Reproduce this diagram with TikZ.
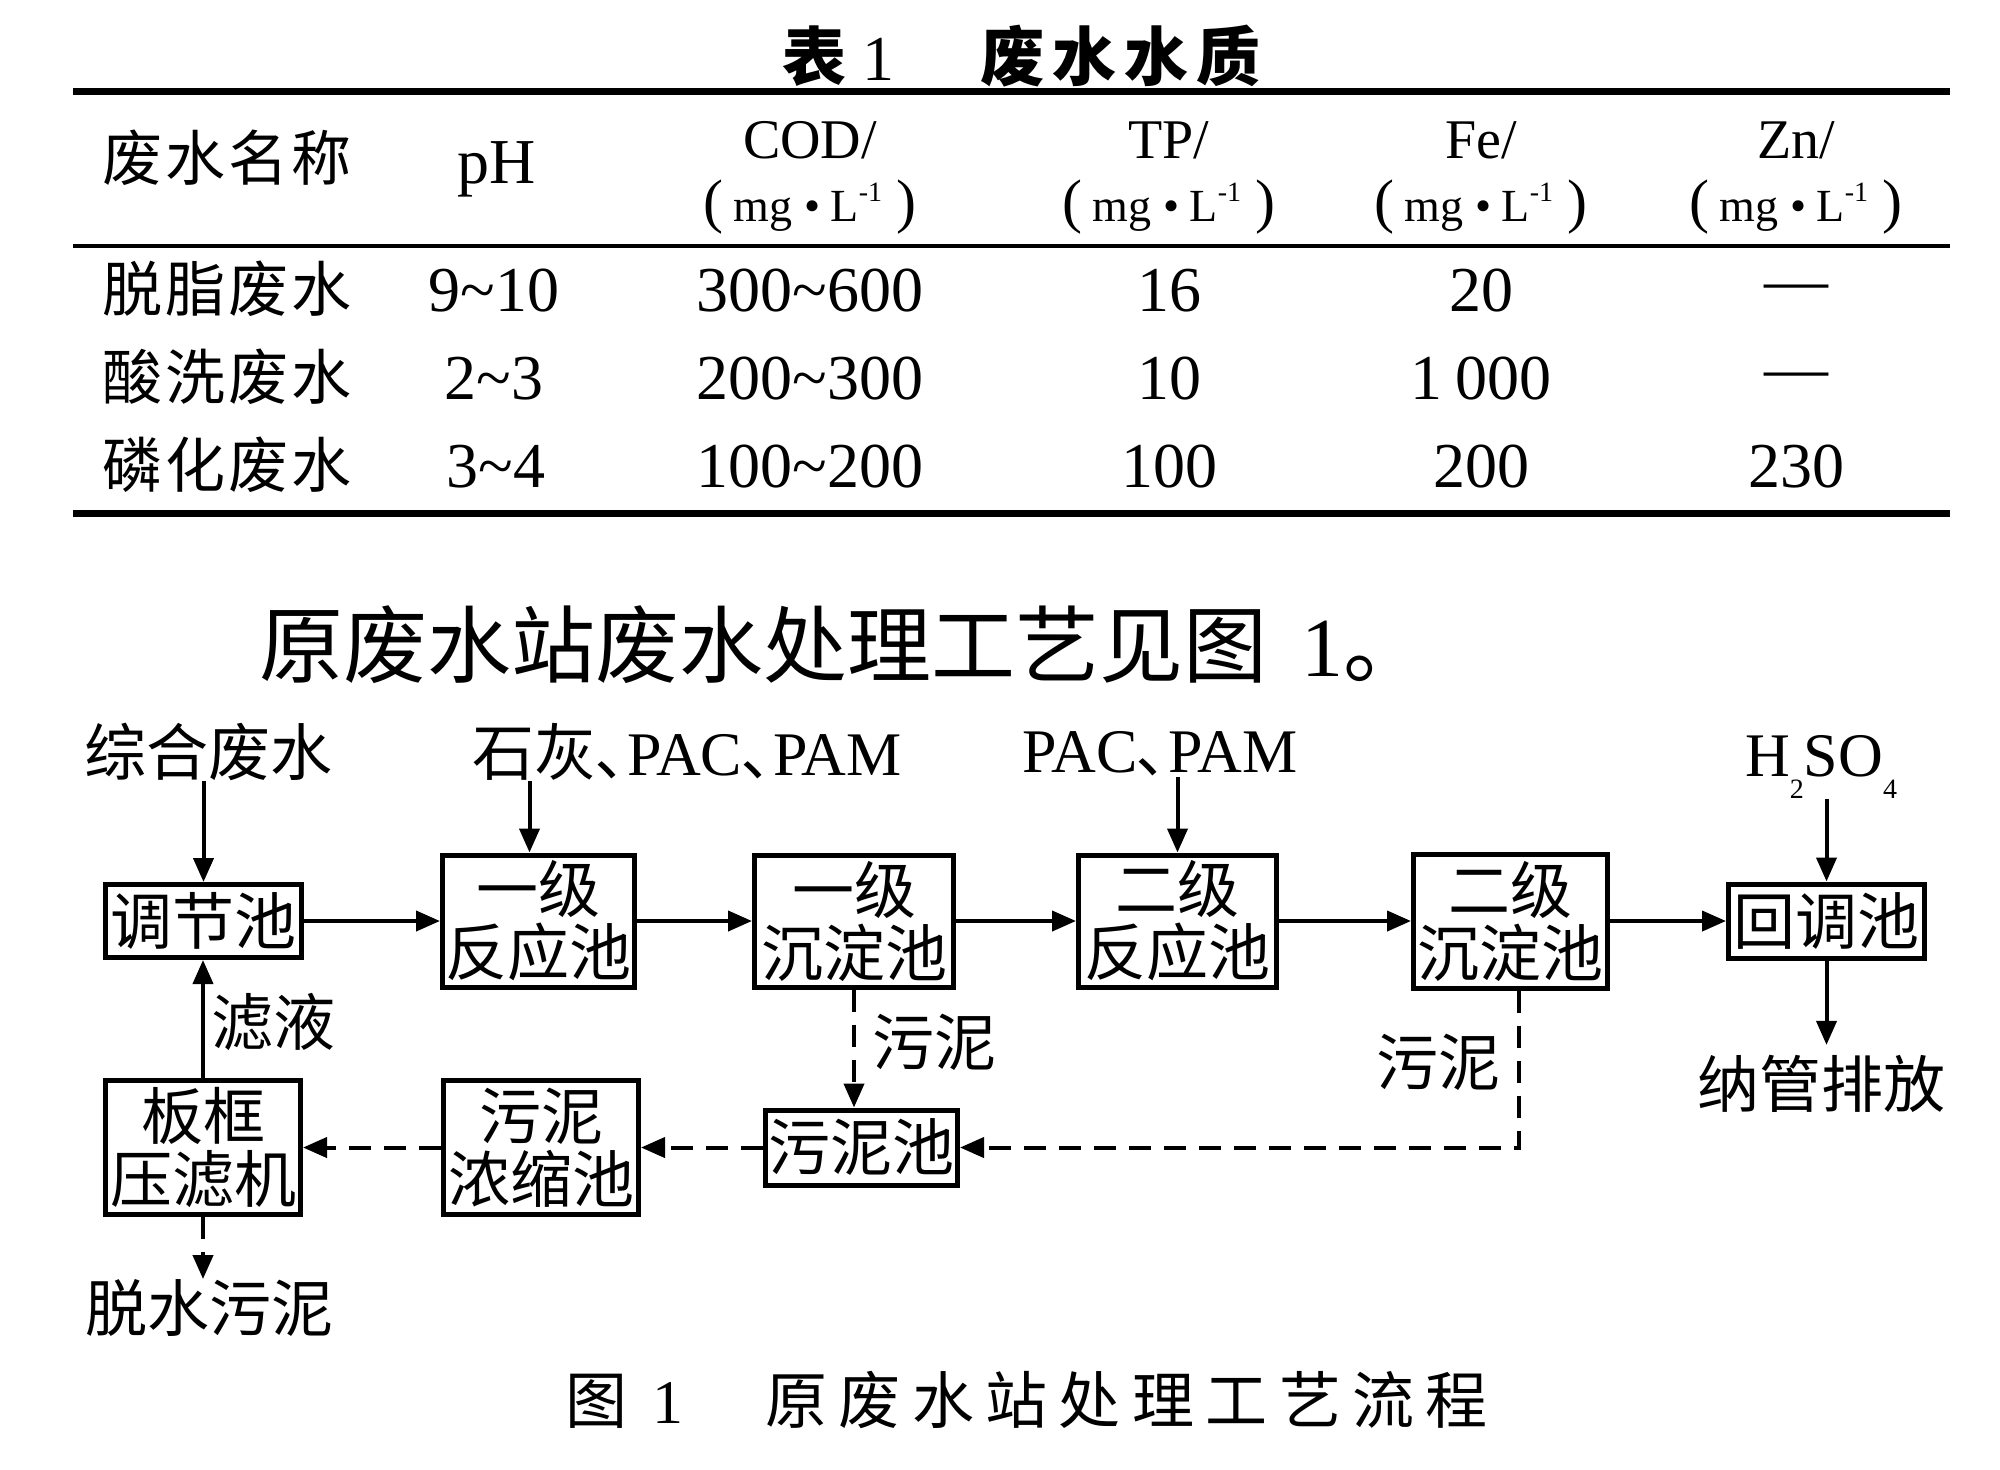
\documentclass[tikz,border=0pt]{standalone}
\usepackage{fontspec}
\setmainfont{Liberation Serif}
\newfontfamily\cjk{Noto Sans CJK SC}
\usetikzlibrary{arrows.meta}
\newdimen\lspamt
\makeatletter
\def\lsp#1#2{\lspamt=#1\relax\lsp@a#2\relax\relax}
\def\lsp@a#1#2{#1\ifx\relax#2\else\hskip\lspamt\relax\expandafter\lsp@a\expandafter#2\fi}
\makeatother
\newcommand\dun{{\cjk ､}}
\newcommand\mgL{{\fontsize{30}{30}\selectfont (}\hspace{5pt}{\fontsize{23}{23}\selectfont mg\hspace{6pt}•\hspace{5pt}L\raisebox{10pt}{\fontsize{14}{14}\selectfont -1}}\hspace{7pt}{\fontsize{30}{30}\selectfont )}}
\begin{document}
\begin{tikzpicture}[x=0.5pt,y=-0.5pt,
  tx/.style={inner sep=0pt, font=\fontsize{32}{32}\selectfont},
  th/.style={inner sep=0pt, font=\fontsize{28}{28}\selectfont},
  tc/.style={inner sep=0pt, font=\cjk\fontsize{30}{30}\selectfont},
  lb/.style={inner sep=0pt, font=\fontsize{31}{31}\selectfont},
  lbc/.style={inner sep=0pt, font=\cjk\fontsize{31}{31}\selectfont},
  pbox/.style={draw, line width=2.5pt, inner sep=0pt, align=center, font=\cjk\fontsize{31}{31.5}\selectfont},
  flow/.style={-{Triangle[length=12pt,width=10pt]}, line width=2pt},
  dflow/.style={flow, dash pattern=on 11pt off 6.5pt},
  thickrule/.style={line width=3.5pt},
  thinrule/.style={line width=2pt}]
\fill[white] (0,0) rectangle (2000,1469);
\useasboundingbox (0,0) rectangle (2000,1469);

% ---------- table ----------
\node[inner sep=0pt, anchor=west, font=\fontsize{32}{32}\selectfont] (ttl) at (782,56)
  {{\cjk\bfseries 表}\hspace{8pt}1\hspace{43pt}{\cjk\bfseries\lsp{4pt}{废水水质}}};
\draw[thickrule] (73,91) -- (1950,91);
\draw[thinrule] (73,246) -- (1950,246);
\draw[thickrule] (73,513) -- (1950,513);

\node[tc] (h1) at (227,158) {\lsp{1.5pt}{废水名称}};
\node[tx] (h2) at (497,169) {pH};
\node[th] (h3a) at (810,140) {COD/};
\node[th] (h3b) at (810,207) {\mgL};
\node[th] (h4a) at (1169,140) {TP/};
\node[th] (h4b) at (1169,207) {\mgL};
\node[th] (h5a) at (1481,140) {Fe/};
\node[th] (h5b) at (1481,207) {\mgL};
\node[th] (h6a) at (1796,140) {Zn/};
\node[th] (h6b) at (1796,207) {\mgL};

\node[tc] (r1a) at (227,289) {\lsp{1.5pt}{脱脂废水}};
\node[tx] (r1b) at (494,291) {9\textasciitilde 10};
\node[tx] (r1c) at (810,291) {300\textasciitilde 600};
\node[tx] (r1d) at (1169,291) {16};
\node[tx] (r1e) at (1481,291) {20};
\node[tx] (r1f) at (1796,293) {—};

\node[tc] (r2a) at (227,377) {\lsp{1.5pt}{酸洗废水}};
\node[tx] (r2b) at (494,379) {2\textasciitilde 3};
\node[tx] (r2c) at (810,379) {200\textasciitilde 300};
\node[tx] (r2d) at (1169,379) {10};
\node[tx] (r2e) at (1481,379) {1\hspace{0.2em}000};
\node[tx] (r2f) at (1796,381) {—};

\node[tc] (r3a) at (227,465) {\lsp{1.5pt}{磷化废水}};
\node[tx] (r3b) at (496,467) {3\textasciitilde 4};
\node[tx] (r3c) at (810,467) {100\textasciitilde 200};
\node[tx] (r3d) at (1169,467) {100};
\node[tx] (r3e) at (1481,467) {200};
\node[tx] (r3f) at (1796,467) {230};

% ---------- heading ----------
\node[inner sep=0pt, anchor=west, font=\fontsize{42}{42}\selectfont] (hd) at (259,645)
  {{\cjk 原废水站废水处理工艺见图}\hspace{17pt}1{\cjk 。}};

% ---------- flowchart ----------
\node[lbc] (zh) at (208,752) {综合废水};
\node[lb] (sh) at (687,752) {{\cjk 石灰}\dun PAC\dun PAM};
\node[lb] (pp) at (1160,754) {PAC\dun PAM};
\node[lb] (hs) at (1821,767) {H\raisebox{-11pt}{\fontsize{14}{14}\selectfont 2}SO\raisebox{-11pt}{\fontsize{14}{14}\selectfont 4}};

\node[pbox, minimum width=98pt, minimum height=36.5pt] (tj) at (203.5,921) {调节池};
\node[pbox, minimum width=96pt, minimum height=66pt] (fy1) at (538.5,921) {一级\\反应池};
\node[pbox, minimum width=99.5pt, minimum height=66pt] (cd1) at (854,921) {一级\\沉淀池};
\node[pbox, minimum width=99pt, minimum height=66pt] (fy2) at (1177.5,921) {二级\\反应池};
\node[pbox, minimum width=97pt, minimum height=67pt] (cd2) at (1510.5,921) {二级\\沉淀池};
\node[pbox, minimum width=98pt, minimum height=37pt] (ht) at (1826.5,921) {回调池};
\node[pbox, minimum width=97.5pt, minimum height=67pt] (bk) at (203,1147.5) {板框\\压滤机};
\node[pbox, minimum width=97.5pt, minimum height=67pt] (ns) at (541,1147.5) {污泥\\浓缩池};
\node[pbox, minimum width=96pt, minimum height=37.5pt] (wn) at (861.5,1147.5) {污泥池};

\node[lbc] (ly) at (273,1022) {滤液};
\node[lbc] (wl1) at (934,1042) {污泥};
\node[lbc] (wl2) at (1438,1062) {污泥};
\node[lbc] (ng) at (1821,1084) {纳管排放};
\node[lbc] (ts) at (209,1308) {脱水污泥};

\coordinate (fy1in) at ([xshift=-4.5pt]fy1.north);
\coordinate (c2b) at ([xshift=4pt]cd2.south);

\draw[flow] (zh.south -| tj.north) -- (tj.north);
\draw[flow] (sh.south -| fy1in) -- (fy1in);
\draw[flow] (pp.south -| fy2.north) -- (fy2.north);
\draw[flow] (hs.south -| ht.north) -- (ht.north);
\draw[flow] (tj.east) -- (tj.east -| fy1.west);
\draw[flow] (fy1.east) -- (fy1.east -| cd1.west);
\draw[flow] (cd1.east) -- (cd1.east -| fy2.west);
\draw[flow] (fy2.east) -- (fy2.east -| cd2.west);
\draw[flow] (cd2.east) -- (cd2.east -| ht.west);
\draw[flow, shorten >=5pt] (ht.south) -- (ht.south |- ng.north);
\draw[flow] (bk.north) -- (bk.north |- tj.south);
\draw[dflow] (bk.south) -- (bk.south |- ts.north);
\draw[dflow] (cd1.south) -- (cd1.south |- wn.north);
\draw[dflow] (c2b) |- (wn.east);
\draw[dflow] (wn.west) -- (wn.west -| ns.east);
\draw[dflow] (ns.west) -- (ns.west -| bk.east);

% ---------- caption ----------
\node[inner sep=0pt, anchor=west, font=\fontsize{31}{31}\selectfont] (cap) at (565,1400)
  {{\cjk 图}\hspace{12.75pt}1\hspace{40.75pt}{\cjk\lsp{5.7pt}{原废水站处理工艺流程}}};
\end{tikzpicture}
\end{document}
